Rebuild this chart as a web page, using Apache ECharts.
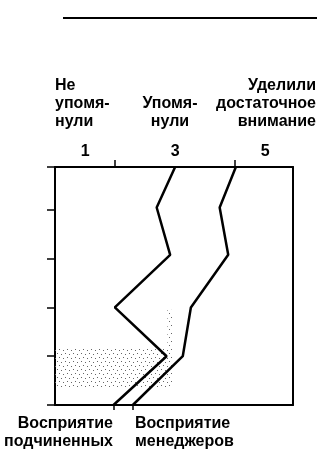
<!DOCTYPE html>
<html>
<head>
<meta charset="utf-8">
<script src="https://cdn.jsdelivr.net/npm/echarts@6/dist/echarts.min.js"></script>
<style>
html,body{margin:0;padding:0;background:#fff;}
#chart{width:335px;height:461px;}
</style>
</head>
<body>
<div id="chart"></div>
<script>
// ---- data ----
var scaleLabels = [1, 3, 5];
var scaleTicks = [5 / 3, 13 / 3];
var rowLevels = [0, 1, 2, 3.08, 4.05, 4.88];
var subordinatesValues = [1.63, 2.81, 1.66, 2.89, 2.59, 3.0];
var managersValues = [2.06, 3.17, 3.35, 4.18, 3.99, 4.35];
var headerLeft = ['Не', 'упомя-', 'нули'];
var headerMid = ['Упомя-', 'нули'];
var headerRight = ['Уделили', 'достаточное', 'внимание'];
var subordinatesName = ['Восприятие', 'подчиненных'];
var managersName = ['Восприятие', 'менеджеров'];
var shadeBandX = [0.33, 2.94];
var shadeBandY = [0.37, 1.17];
var shadeStripeX = [2.83, 2.94];
var shadeStripeY = [1.17, 1.95];

var X_MIN = 0.33, X_MAX = 5.62, Y_MAX = 4.88;

function pairs(xs, ys) {
  return xs.map(function (v, i) { return [v, ys[i]]; });
}

// stipple pattern
var pat = document.createElement('canvas');
pat.width = 8; pat.height = 8;
var pc = pat.getContext('2d');
pc.fillStyle = '#666';
[[1, 1], [5, 2], [3, 5], [7, 6]].forEach(function (p) { pc.fillRect(p[0], p[1], 1, 1); });

var FONT = 'Liberation Sans';
var black = '#000';

var chart = echarts.init(document.getElementById('chart'), null, { renderer: 'canvas' });

function txt(lines, x, y, align) {
  return {
    type: 'text',
    x: x, y: y,
    style: {
      text: lines.join('\n'),
      fill: black,
      font: 'bold 16px "' + FONT + '"',
      lineHeight: 18,
      align: align,
      verticalAlign: 'top'
    }
  };
}

var option = {
  backgroundColor: '#fff',
  animation: false,
  grid: { left: 55, right: 42, top: 167, bottom: 56 },
  xAxis: [
    {
      type: 'value', position: 'top', min: X_MIN, max: X_MAX,
      axisLine: { show: true, onZero: false, lineStyle: { color: black, width: 2 } },
      axisTick: { show: true, customValues: scaleTicks, length: 7, lineStyle: { color: black, width: 1.5 } },
      axisLabel: { customValues: scaleLabels, color: black, fontSize: 16, fontFamily: FONT, fontWeight: 'bold', margin: 7 },
      splitLine: { show: false }
    },
    {
      type: 'value', position: 'bottom', min: X_MIN, max: X_MAX,
      axisLine: { show: true, onZero: false, lineStyle: { color: black, width: 2 } },
      axisTick: { show: true, customValues: [subordinatesValues[0], managersValues[0]], length: 5, lineStyle: { color: black, width: 1.5 } },
      axisLabel: { show: false },
      splitLine: { show: false }
    }
  ],
  yAxis: [
    {
      type: 'value', position: 'left', min: 0, max: Y_MAX, interval: 1,
      axisLine: { show: true, onZero: false, lineStyle: { color: black, width: 2 } },
      axisTick: { show: true, length: 8, lineStyle: { color: black, width: 1.5 } },
      axisLabel: { show: false },
      splitLine: { show: false }
    },
    {
      type: 'value', position: 'right', min: 0, max: Y_MAX, interval: 1,
      axisLine: { show: true, onZero: false, lineStyle: { color: black, width: 2 } },
      axisTick: { show: false },
      axisLabel: { show: false },
      splitLine: { show: false }
    }
  ],
  series: [
    {
      type: 'line', name: 'shade', xAxisIndex: 0, yAxisIndex: 0, data: [],
      markArea: {
        silent: true,
        itemStyle: { color: { image: pat, repeat: 'repeat' } },
        data: [
          [{ coord: [shadeBandX[0], shadeBandY[1]] }, { coord: [shadeBandX[1], shadeBandY[0]] }],
          [{ coord: [shadeStripeX[0], shadeStripeY[1]] }, { coord: [shadeStripeX[1], shadeStripeY[0]] }]
        ]
      }
    },
    {
      type: 'line', name: subordinatesName.join(' '), xAxisIndex: 0, yAxisIndex: 0,
      data: pairs(subordinatesValues, rowLevels), symbol: 'none', clip: false,
      lineStyle: { color: black, width: 2.5 }, z: 5
    },
    {
      type: 'line', name: managersName.join(' '), xAxisIndex: 0, yAxisIndex: 0,
      data: pairs(managersValues, rowLevels), symbol: 'none', clip: false,
      lineStyle: { color: black, width: 2.5 }, z: 5
    }
  ],
  graphic: [
    { type: 'line', shape: { x1: 63, y1: 18, x2: 317, y2: 18 }, style: { stroke: black, lineWidth: 2 } },
    txt(headerLeft, 55, 77, 'left'),
    txt(headerMid, 170, 95, 'center'),
    txt(headerRight, 316, 77, 'right'),
    txt(subordinatesName, 113, 415, 'right'),
    txt(managersName, 135, 415, 'left')
  ]
};
chart.setOption(option);
</script>
</body>
</html>
